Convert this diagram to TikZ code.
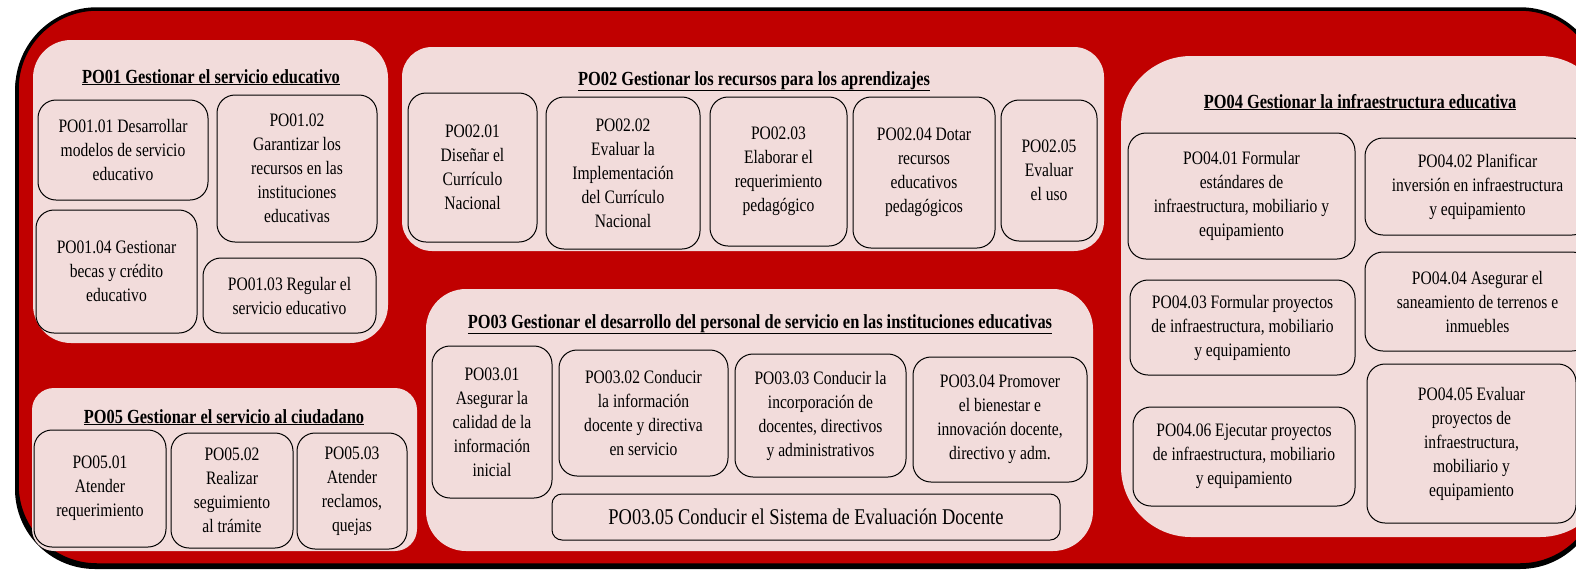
\documentclass[tikz,border=0pt]{standalone}
\usepackage{fontspec}
\setmainfont{Liberation Serif}[FakeStretch=0.82]
\definecolor{rojo}{HTML}{C00000}
\definecolor{rosa}{HTML}{F2DCDB}
\begin{document}
\begin{tikzpicture}[x=1pt,y=-1pt,
  font=\fontsize{19}{24}\selectfont,
  caja/.style={draw,line width=1pt,fill=rosa,rounded corners=18pt,align=center,inner sep=0pt},
  titulo/.style={anchor=base,inner sep=0pt,font=\fontsize{20}{24}\selectfont\bfseries}]
\clip (0,0) rectangle (1576,571);
\fill [black,rounded corners=80pt] (15,12) rectangle (1600,569);
\filldraw [fill=rojo,draw=black,line width=3.5pt,rounded corners=80pt] (17,9) rectangle (1600,565);
\fill [rosa,rounded corners=38pt] (33,40) rectangle (388,343);
\fill [rosa,rounded corners=30pt] (402,47) rectangle (1104,251);
\fill [rosa,rounded corners=40pt] (426,289) rectangle (1093,551);
\fill [rosa,rounded corners=70pt] (1121,56) rectangle (1610,537);
\fill [rosa,rounded corners=22pt] (32,388) rectangle (417,551);
\node [titulo] (t1) at (211,83) {\underline{PO01 Gestionar el servicio educativo}};
\node [titulo] (t2) at (754,85) {\underline{PO02 Gestionar los recursos para los aprendizajes}};
\node [titulo] (t3) at (760,328) {\underline{PO03 Gestionar el desarrollo del personal de servicio en las instituciones educativas}};
\node [titulo] (t4) at (1360,108) {\underline{PO04 Gestionar la infraestructura educativa}};
\node [titulo] (t5) at (224,423) {\underline{PO05 Gestionar el servicio al ciudadano}};
\node [caja,minimum width=170pt,minimum height=100pt] (p0101) at (123,150) {PO01.01 Desarrollar\\modelos de servicio\\educativo};
\node [caja,minimum width=160pt,minimum height=147pt] (p0102) at (297,168.5) {PO01.02\\Garantizar los\\recursos en las\\instituciones\\educativas};
\node [caja,minimum width=161pt,minimum height=123pt] (p0104) at (116.5,271.5) {PO01.04 Gestionar\\becas y crédito\\educativo};
\node [caja,minimum width=173pt,minimum height=75pt] (p0103) at (289.5,295.5) {PO01.03 Regular el\\servicio educativo};
\node [caja,minimum width=129pt,minimum height=149pt] (p0201) at (472.5,167.5) {PO02.01\\Diseñar el\\Currículo\\Nacional};
\node [caja,minimum width=154pt,minimum height=152pt] (p0202) at (623,173) {PO02.02\\Evaluar la\\Implementación\\del Currículo\\Nacional};
\node [caja,minimum width=137pt,minimum height=149pt] (p0203) at (778.5,171.5) {PO02.03\\Elaborar el\\requerimiento\\pedagógico};
\node [caja,minimum width=142pt,minimum height=151pt] (p0204) at (924,172.5) {PO02.04 Dotar\\recursos\\educativos\\pedagógicos};
\node [caja,minimum width=96pt,minimum height=141pt] (p0205) at (1049,170.5) {PO02.05\\Evaluar\\el uso};
\node [caja,minimum width=120pt,minimum height=152pt] (p0301) at (492,422) {PO03.01\\Asegurar la\\calidad de la\\información\\inicial};
\node [caja,minimum width=169pt,minimum height=126pt] (p0302) at (643.5,413) {PO03.02 Conducir\\la información\\docente y directiva\\en servicio};
\node [caja,minimum width=171pt,minimum height=123pt] (p0303) at (820.5,415.5) {PO03.03 Conducir la\\incorporación de\\docentes, directivos\\y administrativos};
\node [caja,minimum width=174pt,minimum height=125pt] (p0304) at (1000,419.5) {PO03.04 Promover\\el bienestar e\\innovación docente,\\directivo y adm.};
\node [caja,minimum width=508pt,minimum height=46pt,rounded corners=10pt,font=\fontsize{22.5}{28}\selectfont] (p0305) at (806,517) {PO03.05 Conducir el Sistema de Evaluación Docente};
\node [caja,minimum width=227pt,minimum height=126pt] (p0401) at (1241.5,196) {PO04.01 Formular\\estándares de\\infraestructura, mobiliario y\\equipamiento};
\node [caja,minimum width=225pt,minimum height=97pt] (p0402) at (1477.5,186.5) {PO04.02 Planificar\\inversión en infraestructura\\y equipamiento};
\node [caja,minimum width=225pt,minimum height=95pt] (p0403) at (1242.5,327.5) {PO04.03 Formular proyectos\\de infraestructura, mobiliario\\y equipamiento};
\node [caja,minimum width=225pt,minimum height=99pt] (p0404) at (1477.5,301.5) {PO04.04 Asegurar el\\saneamiento de terrenos e\\inmuebles};
\node [caja,minimum width=222pt,minimum height=99pt] (p0406) at (1244,456.5) {PO04.06 Ejecutar proyectos\\de infraestructura, mobiliario\\y equipamiento};
\node [caja,minimum width=209pt,minimum height=159pt] (p0405) at (1471.5,443.5) {PO04.05 Evaluar\\proyectos de\\infraestructura,\\mobiliario y\\equipamiento};
\node [caja,minimum width=132pt,minimum height=117pt] (p0501) at (100,488.5) {PO05.01\\Atender\\requerimiento};
\node [caja,minimum width=122pt,minimum height=115pt] (p0502) at (232,490.5) {PO05.02\\Realizar\\seguimiento\\al trámite};
\node [caja,minimum width=110pt,minimum height=116pt] (p0503) at (352,491) {PO05.03\\Atender\\reclamos,\\quejas};
\end{tikzpicture}
\end{document}
